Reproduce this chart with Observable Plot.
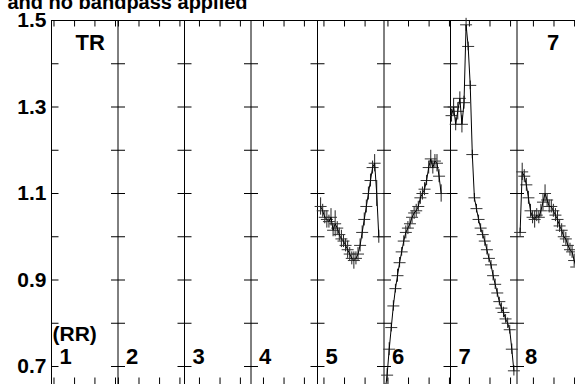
<!DOCTYPE html>
<html>
<head>
<meta charset="utf-8">
<script src="https://cdn.jsdelivr.net/npm/d3@7"></script>
<script src="https://cdn.jsdelivr.net/npm/@observablehq/plot@0.6"></script>
<style>
  html, body { margin: 0; padding: 0; background: #fff; overflow: hidden; }
  #chart svg { display: block; }
</style>
</head>
<body>
<div id="chart"></div>
<script>
// ---- data ----
const titleText = "and no bandpass applied";
const panelLabels = ["1", "2", "3", "4", "5", "6", "7", "8"];
const yTickLabels = [0.7, 0.9, 1.1, 1.3, 1.5];
const yMinorTicks = [0.7, 0.8, 0.9, 1.0, 1.1, 1.2, 1.3, 1.4, 1.5];
const channelsPerPanel = 32;
// x tick positions (channel units) inside each panel
const panelTicks = [
  [1.7, 11.6, 21.4, 31.3],
  [0.7, 10.6, 20.5, 30.3],
  [7.7, 17.6, 27.4],
  [6.5, 16.4, 26.2],
  [3.6, 13.5, 23.4],
  [2.4, 12.3, 22.2, 32.0],
  [9.6, 19.5, 29.4],
  [8.4, 18.3, 28.2]
];

// spectra (panel, first channel, amplitudes, errors)
const p5Start = 2;
const p5Amp = [1.07, 1.06, 1.045, 1.04, 1.035, 1.045, 1.015, 1.03, 1.02, 1.005, 0.995, 0.99, 0.98, 0.97, 0.96, 0.95, 0.945, 0.95, 0.96, 0.98, 1.01, 1.04, 1.07, 1.10, 1.13, 1.16, 1.17, 1.10, 1.00];
const p5Err = [0.02, 0.015, 0.015, 0.02, 0.015, 0.02, 0.015, 0.03, 0.015, 0.015, 0.02, 0.015, 0.015, 0.02, 0.015, 0.015, 0.02, 0.015, 0.015, 0.015, 0.015, 0.015, 0.015, 0.015, 0.015, 0.015, 0.02, 0.03, 0.015];

const p6Start = 1;
const p6Amp = [0.64, 0.68, 0.74, 0.79, 0.84, 0.88, 0.91, 0.94, 0.965, 0.99, 1.01, 1.02, 1.03, 1.045, 1.055, 1.06, 1.07, 1.09, 1.10, 1.11, 1.13, 1.16, 1.18, 1.16, 1.175, 1.17, 1.14, 1.10];
const p6Err = [0.02, 0.015, 0.015, 0.01, 0.012, 0.01, 0.015, 0.012, 0.01, 0.012, 0.015, 0.015, 0.012, 0.015, 0.015, 0.015, 0.012, 0.015, 0.015, 0.015, 0.012, 0.015, 0.02, 0.015, 0.015, 0.02, 0.015, 0.02];

const p7Start = 1;
const p7Amp = [1.28, 1.30, 1.26, 1.29, 1.32, 1.26, 1.31, 1.49, 1.44, 1.35, 1.19, 1.09, 1.065, 1.04, 1.02, 1.005, 0.99, 0.97, 0.95, 0.935, 0.91, 0.89, 0.87, 0.85, 0.835, 0.825, 0.81, 0.80, 0.785, 0.74, 0.69];
const p7Err = [0.015, 0.02, 0.015, 0.02, 0.015, 0.02, 0.015, 0.015, 0.01, 0.01, 0.01, 0.01, 0.01, 0.01, 0.01, 0.01, 0.012, 0.012, 0.01, 0.01, 0.012, 0.012, 0.01, 0.01, 0.012, 0.012, 0.01, 0.012, 0.01, 0.012, 0.012];

const p8Start = 2;
const p8Amp = [1.01, 1.15, 1.14, 1.12, 1.09, 1.06, 1.045, 1.04, 1.05, 1.045, 1.06, 1.08, 1.10, 1.085, 1.07, 1.07, 1.06, 1.05, 1.04, 1.025, 1.015, 1.00, 0.995, 0.98, 0.97, 0.965, 0.945, 0.93];
const p8Err = [0.01, 0.02, 0.015, 0.015, 0.015, 0.015, 0.015, 0.02, 0.015, 0.015, 0.015, 0.02, 0.02, 0.015, 0.015, 0.015, 0.015, 0.015, 0.02, 0.015, 0.015, 0.015, 0.015, 0.015, 0.015, 0.015, 0.015, 0.015];

// ---- build tables ----
const xOf = (panel, ch) => (panel - 1) + (ch - 0.5) / channelsPerPanel;
const spectra = [
  [5, p5Start, p5Amp, p5Err],
  [6, p6Start, p6Amp, p6Err],
  [7, p7Start, p7Amp, p7Err],
  [8, p8Start, p8Amp, p8Err]
];
const pts = [];
for (const [panel, start, amp, err] of spectra) {
  amp.forEach((v, i) => pts.push({panel, x: xOf(panel, start + i), v, e: err[i]}));
}
const boundaries = d3.range(0, 8);
const hTicks = [];
for (const b of boundaries) for (const v of yMinorTicks) hTicks.push({b, v});
const vTicks = [];
panelTicks.forEach((arr, i) => arr.forEach(ch => vTicks.push(xOf(i + 1, ch))));

// symbols
const hBar = {draw(ctx) { ctx.moveTo(-6, 0); ctx.lineTo(6, 0); }};
const hTickBoth = {draw(ctx) { ctx.moveTo(-7, 0); ctx.lineTo(7, 0); }};
const hTickRight = {draw(ctx) { ctx.moveTo(0, 0); ctx.lineTo(7, 0); }};
const vTickDown = {draw(ctx) { ctx.moveTo(0, 0); ctx.lineTo(0, 6); }};
const vTickUp = {draw(ctx) { ctx.moveTo(0, 0); ctx.lineTo(0, -7); }};

const W = 575, H = 384, mL = 51, mT = 20;
const panelPx = 66.5, unitPx = 432.5;
const xMax = (W - mL) / panelPx;
const yMin = 1.5 - (H - mT) / unitPx;

const font = "Liberation Sans, Arial, Helvetica, sans-serif";

const chart = Plot.plot({
  width: W, height: H,
  marginLeft: mL, marginRight: 0, marginTop: mT, marginBottom: 0,
  x: {domain: [0, xMax], axis: null},
  y: {domain: [yMin, 1.5], axis: null},
  style: {fontFamily: font, background: "#fff"},
  marks: [
    // frame lines
    Plot.ruleY([1.5], {stroke: "#000", strokeWidth: 1}),
    Plot.ruleX(boundaries, {stroke: "#000", strokeWidth: 1}),
    // ticks on panel boundaries
    Plot.dot(hTicks.filter(d => d.b > 0), {x: "b", y: "v", symbol: hTickBoth, stroke: "#000", fill: "none", strokeWidth: 1}),
    Plot.dot(hTicks.filter(d => d.b === 0), {x: "b", y: "v", symbol: hTickRight, stroke: "#000", fill: "none", strokeWidth: 1}),
    Plot.dot(vTicks, {x: d => d, y: () => 1.5, symbol: vTickDown, stroke: "#000", fill: "none", strokeWidth: 1}),
    Plot.dot(vTicks, {x: d => d, y: () => yMin, symbol: vTickUp, stroke: "#000", fill: "none", strokeWidth: 1}),
    // data: error bars, channel bars, connecting line
    Plot.ruleX(pts, {x: "x", y1: d => d.v - d.e, y2: d => d.v + d.e, stroke: "#222", strokeWidth: 1}),
    Plot.dot(pts, {x: "x", y: "v", symbol: hBar, stroke: "#333", fill: "none", strokeWidth: 1}),
    Plot.line(pts, {x: "x", y: "v", z: "panel", stroke: "#000", strokeWidth: 1}),
    // y labels
    Plot.text(yTickLabels, {x: () => 0, y: d => d, text: d => d.toFixed(1), textAnchor: "end", dx: -5, lineAnchor: "middle", fontSize: 21, fontWeight: "bold", fill: "#000", style: "letter-spacing:2.5px"}),
    // panel numbers
    Plot.text(panelLabels, {x: (d, i) => i, y: () => 0.7, text: d => d, textAnchor: "start", lineAnchor: "bottom", dx: 8, dy: -3, fontSize: 22, fontWeight: "bold", fill: "#000"}),
    Plot.text(["(RR)"], {x: () => 0, y: () => 0.7, text: d => d, textAnchor: "start", lineAnchor: "bottom", dx: 1, dy: -26, fontSize: 21, fontWeight: "bold", fill: "#000", style: "letter-spacing:1px"}),
    Plot.text(["TR"], {x: () => 0, y: () => 1.5, text: d => d, textAnchor: "start", lineAnchor: "bottom", dx: 24, dy: 29, fontSize: 22, fontWeight: "bold", fill: "#000"}),
    Plot.text(["7"], {x: () => 7, y: () => 1.5, text: d => d, textAnchor: "start", lineAnchor: "bottom", dx: 30, dy: 29, fontSize: 22, fontWeight: "bold", fill: "#000"}),
    // title (partly cut off at the top)
    Plot.text([titleText], {x: () => 0, y: () => 1.5, text: d => d, textAnchor: "start", lineAnchor: "bottom", dx: -44, dy: -12, fontSize: 20, fontWeight: "bold", fill: "#000"})
  ]
});
document.getElementById("chart").appendChild(chart);
</script>
</body>
</html>
